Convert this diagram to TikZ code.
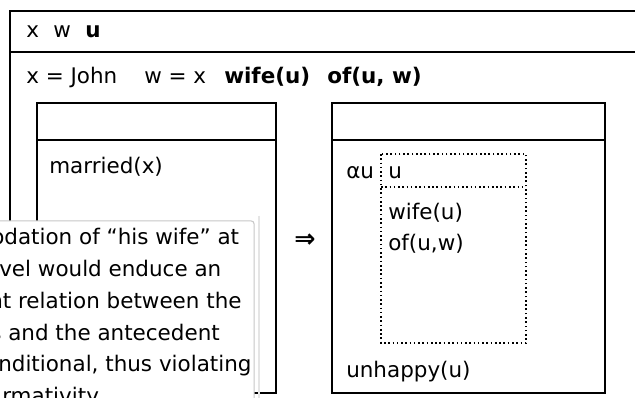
\documentclass[tikz,border=0pt]{standalone}
\usepackage{fontspec}
\setmainfont{DejaVu Sans}
\begin{document}
\begin{tikzpicture}[x=0.75pt,y=-0.75pt,
  box/.style={draw=black, line width=1.3pt},
  dotbox/.style={draw=black, line width=1.2pt, dotted},
  txt/.style={anchor=mid west, inner sep=0pt, font=\fontsize{16.1}{19}\selectfont},
  btxt/.style={anchor=mid west, inner sep=0pt, font=\fontsize{16.1}{19}\selectfont\bfseries}]
\useasboundingbox (0,0) rectangle (635,398);
\clip (0,0) rectangle (635,398);
\fill[white] (0,0) rectangle (635,398);
% outer box
\coordinate (otl) at (10,11);
\coordinate (obr) at (700,460);
\draw[box] (otl) rectangle (obr);
\draw[box] (10,52) -- (700,52);
\node[txt] (vx) at (26,34) {x};
\node[txt] (vw) at (53,34) {w};
\node[btxt] (vu) at (85,34) {u};
\node[txt] (c1) at (26,80) {x = John};
\node[txt] (c2) at (144,80) {w = x};
\node[btxt] (c3) at (224,80) {wife(u)};
\node[btxt] (c4) at (327,80) {of(u, w)};
% left inner box
\coordinate (ltl) at (37,103);
\coordinate (lbr) at (276,393);
\draw[box] (ltl) rectangle (lbr);
\draw[box] (37,140) -- (276,140);
\node[txt] (mx) at (49,170) {married(x)};
% right inner box
\coordinate (rtl) at (332,103);
\coordinate (rbr) at (605,393);
\draw[box] (rtl) rectangle (rbr);
\draw[box] (332,140) -- (605,140);
\node[txt] (au) at (346,175) {αu};
% dotted box
\coordinate (dtl) at (381,154);
\coordinate (dbr) at (526,343);
\draw[dotbox] (dtl) rectangle (dbr);
\draw[dotbox] (381,187) -- (526,187);
\node[txt] (du) at (388,175) {u};
\node[txt] (dw) at (388,216) {wife(u)};
\node[txt] (dof) at (388,247) {of(u,w)};
\node[txt] (uh) at (346,374) {unhappy(u)};
% implication arrow
\node[inner sep=0pt, font=\fontsize{19}{22}\selectfont\bfseries] (imp) at (305,241) {⇒};
% popup
\draw[black!10, line width=1pt] (259,216) -- (259,420);
\filldraw[fill=white, draw=black!22, line width=0.75pt, rounded corners=2pt] (-20,221) rectangle (254,420);
\node[txt] (p1) at (-9,241) {odation of “his wife” at};
\node[txt] (p2) at (-1,273) {vel would enduce an};
\node[txt] (p3) at (-11,305) {nt relation between the};
\node[txt] (p4) at (-10,337) {s and the antecedent};
\node[txt] (p5) at (-2,368) {nditional, thus violating};
\node[txt] (p6) at (2,400) {rmativity};
\end{tikzpicture}
\end{document}
